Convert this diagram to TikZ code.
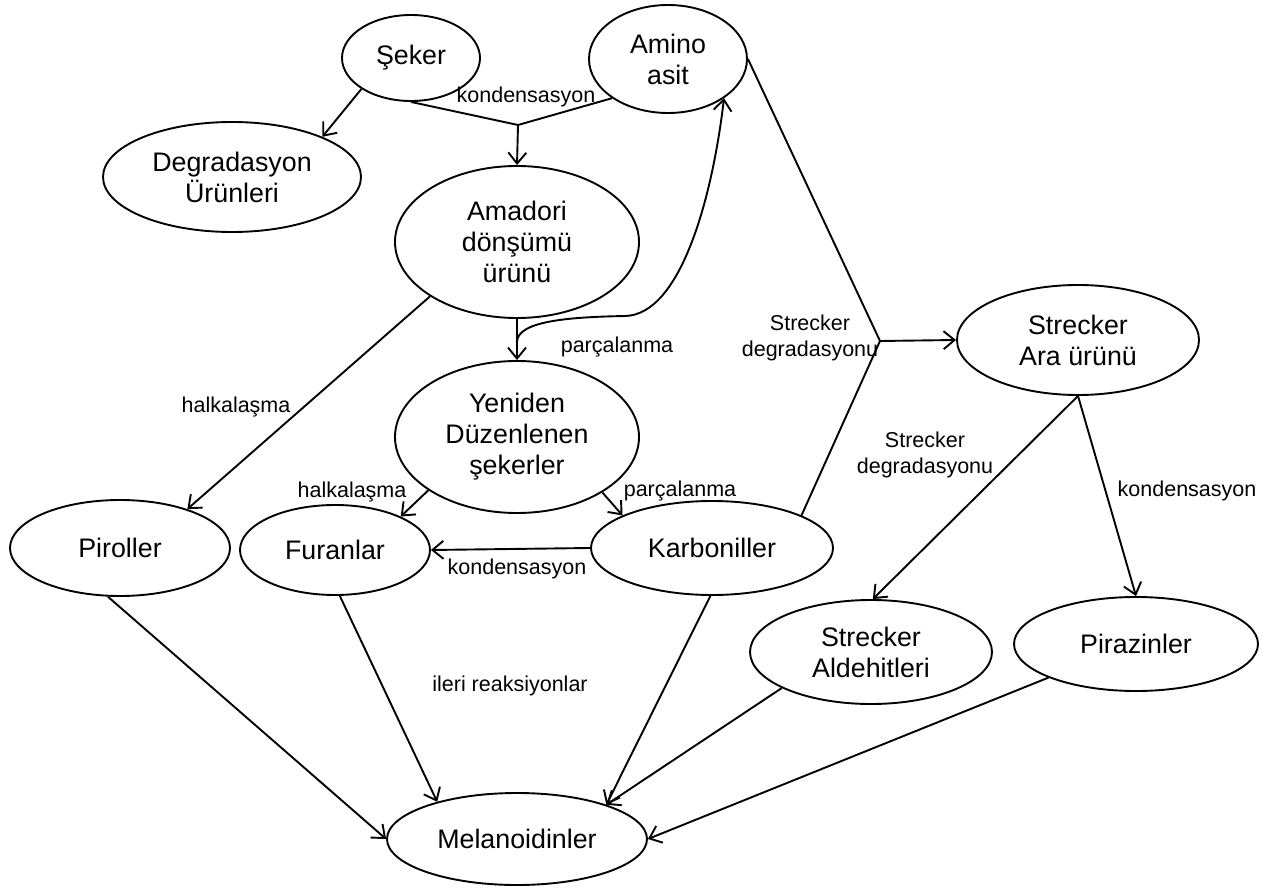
\documentclass[tikz,border=0pt]{standalone}
\usepackage{fontspec}
\setmainfont{Liberation Sans}
\usetikzlibrary{shapes.geometric,arrows.meta}
\begin{document}
\begin{tikzpicture}[x=1pt,y=-1pt,
  ell/.style={draw,ellipse,line width=1.9pt,inner sep=0pt,align=center,
    font=\fontsize{26.8}{31}\selectfont},
  lbl/.style={inner sep=0pt,align=center,font=\fontsize{21.5}{26}\selectfont},
  con/.style={line width=1.9pt},
  arr/.style={line width=1.9pt,-{Straight Barb[length=11pt,width=18pt,line width=1.9pt]}}]
\path[use as bounding box] (0,0) rectangle (1271,890);
% nodes
\node[ell,minimum width=138pt,minimum height=86pt] (seker) at (411,58) {Şeker};
\node[ell,minimum width=158pt,minimum height=108pt] (amino) at (668,59) {Amino\\asit};
\node[ell,minimum width=258pt,minimum height=110pt] (degr) at (232,177) {Degradasyon\\Ürünleri};
\node[ell,minimum width=244pt,minimum height=152pt] (amad) at (517,242) {Amadori\\dönşümü\\ürünü};
\node[ell,minimum width=244pt,minimum height=152pt] (yen) at (517,437) {Yeniden\\Düzenlenen\\şekerler};
\node[ell,minimum width=220pt,minimum height=96pt] (pir) at (120,548) {Piroller};
\node[ell,minimum width=190pt,minimum height=90pt] (fur) at (335,550) {Furanlar};
\node[ell,minimum width=242pt,minimum height=94pt] (karb) at (712,548) {Karboniller};
\node[ell,minimum width=242pt,minimum height=110pt] (ara) at (1078,340) {Strecker\\Ara ürünü};
\node[ell,minimum width=242pt,minimum height=104pt] (ald) at (871,652) {Strecker\\Aldehitleri};
\node[ell,minimum width=244pt,minimum height=94pt] (piraz) at (1136,644) {Pirazinler};
\node[ell,minimum width=260pt,minimum height=92pt] (mel) at (517,839) {Melanoidinler};
% junctions
\coordinate (j1) at (518,125);
\coordinate (j2) at (880,341);
\coordinate (sp) at (517,342);
% connectors
\draw[arr] (seker.212) -- (degr.24);
\draw[con] (seker.south) -- (j1) -- (amino.215);
\draw[arr] (j1) -- (amad.north);
\draw[con] (amino.east) -- (j2) -- (karb.20);
\draw[arr] (j2) -- (ara.west);
\draw[arr] (amad.south) -- (yen.north);
\draw[arr] (sp) .. controls (517,320) and (575,317) .. (625,316) .. controls (680,315) and (712,200) .. (amino.325);
\draw[arr] (amad.212) -- (pir.30);
\draw[arr] (yen.211) -- (fur.27);
\draw[arr] (yen.327) -- (karb.160);
\draw[arr] (karb.west) -- (fur.east);
\draw[arr] (ara.south) -- (ald.88);
\draw[arr] (ara.south) -- (piraz.north);
\draw[arr] (pir.256) -- (mel.west);
\draw[arr] (fur.276) -- (mel.155);
\draw[arr] (karb.268) -- (mel.21);
\draw[arr] (ald.202) -- (mel.21);
\draw[arr] (piraz.201) -- (mel.east);
% labels
\node[lbl] (l1) at (526,97) {kondensasyon};
\node[lbl] (l2) at (617,347) {parçalanma};
\node[lbl] (l3) at (236,407) {halkalaşma};
\node[lbl] (l4) at (810,338) {Strecker\\degradasyonu};
\node[lbl] (l5) at (925,455) {Strecker\\degradasyonu};
\node[lbl] (l6) at (352,492) {halkalaşma};
\node[lbl] (l7) at (680,491) {parçalanma};
\node[lbl] (l8) at (517,569) {kondensasyon};
\node[lbl] (l9) at (1187,491) {kondensasyon};
\node[lbl] (l10) at (510,686) {ileri reaksiyonlar};
\end{tikzpicture}
\end{document}
